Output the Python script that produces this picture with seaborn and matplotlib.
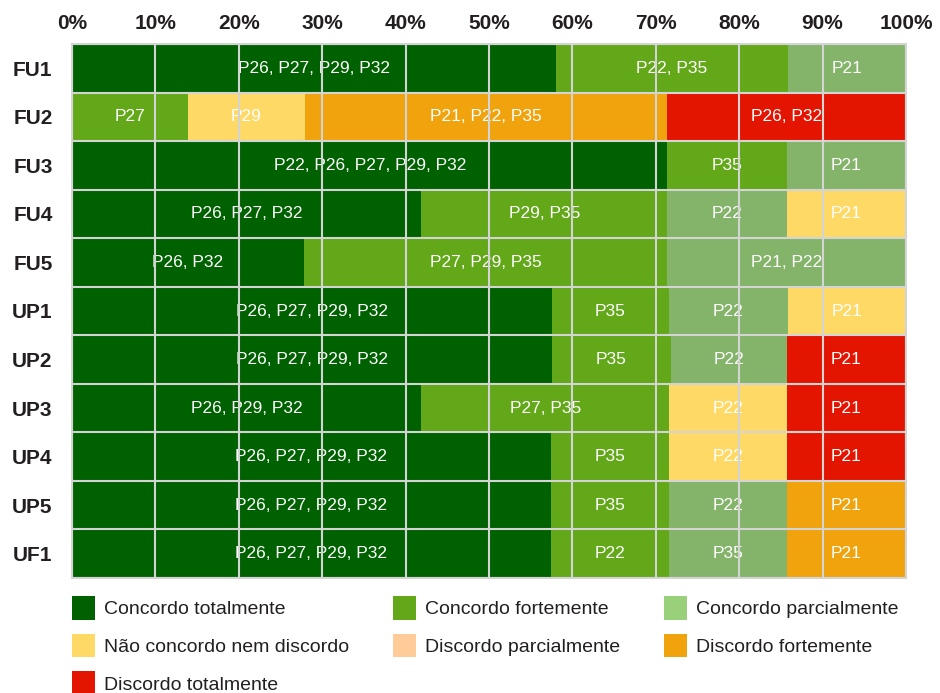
import numpy as np
import pandas as pd
import seaborn as sns
import matplotlib.pyplot as plt
from matplotlib.patches import Patch

# dados (largura de cada segmento, em %)
grupos = ['FU1', 'FU2', 'FU3', 'FU4', 'FU5', 'UP1', 'UP2', 'UP3', 'UP4', 'UP5', 'UF1']
categorias = ['Concordo totalmente', 'Concordo fortemente', 'Concordo parcialmente',
              'Não concordo nem discordo', 'Discordo parcialmente',
              'Discordo fortemente', 'Discordo totalmente']

conc_total = [58.0, 0, 71.4, 41.9, 27.8, 57.5, 57.5, 41.9, 57.4, 57.4, 57.4]
conc_forte = [27.8, 13.9, 14.3, 29.5, 43.6, 14.1, 14.3, 29.7, 14.2, 14.2, 14.2]
conc_parc = [14.2, 0, 14.3, 14.3, 28.6, 14.2, 13.9, 0, 0, 14.1, 14.1]
nao_conc = [0, 14.0, 0, 14.3, 0, 14.2, 0, 14.1, 14.1, 0, 0]
disc_parc = [0, 0, 0, 0, 0, 0, 0, 0, 0, 0, 0]
disc_forte = [0, 43.5, 0, 0, 0, 0, 0, 0, 0, 14.3, 14.3]
disc_total = [0, 28.6, 0, 0, 0, 0, 14.3, 14.3, 14.3, 0, 0]

rot_conc_total = ['P26, P27, P29, P32', '', 'P22, P26, P27, P29, P32', 'P26, P27, P32', 'P26, P32',
                  'P26, P27, P29, P32', 'P26, P27, P29, P32', 'P26, P29, P32',
                  'P26, P27, P29, P32', 'P26, P27, P29, P32', 'P26, P27, P29, P32']
rot_conc_forte = ['P22, P35', 'P27', 'P35', 'P29, P35', 'P27, P29, P35',
                  'P35', 'P35', 'P27, P35', 'P35', 'P35', 'P22']
rot_conc_parc = ['P21', '', 'P21', 'P22', 'P21, P22', 'P22', 'P22', '', '', 'P22', 'P35']
rot_nao_conc = ['', 'P29', '', 'P21', '', 'P21', '', 'P22', 'P22', '', '']
rot_disc_parc = [''] * 11
rot_disc_forte = ['', 'P21, P22, P35', '', '', '', '', '', '', '', 'P21', 'P21']
rot_disc_total = ['', 'P26, P32', '', '', '', '', 'P21', 'P21', 'P21', '', '']

cores = ['#006100', '#62a818', '#84b46a', '#ffd966', '#ffcc99', '#f0a30c', '#e31400']
cores_legenda = ['#006100', '#62a818', '#99d07a', '#ffd966', '#ffcc99', '#f0a30c', '#e31400']

valores = pd.DataFrame(np.array([conc_total, conc_forte, conc_parc, nao_conc,
                                 disc_parc, disc_forte, disc_total]).T,
                       index=grupos, columns=categorias)
rotulos = pd.DataFrame(np.array([rot_conc_total, rot_conc_forte, rot_conc_parc, rot_nao_conc,
                                 rot_disc_parc, rot_disc_forte, rot_disc_total]).T,
                       index=grupos, columns=categorias)
acum = valores.cumsum(axis=1)

sns.set_theme(style='white')
plt.rcParams['font.family'] = ['Liberation Sans', 'DejaVu Sans']

fig = plt.figure(figsize=(9.4, 6.93), dpi=100)
ax = fig.add_axes([72 / 940, 1 - 578 / 693, 834 / 940, 534 / 693])

# barras empilhadas: do acumulado maior para o menor
for cat, cor in reversed(list(zip(categorias, cores))):
    df = pd.DataFrame({'grupo': grupos, 'valor': acum[cat].values})
    sns.barplot(data=df, x='valor', y='grupo', color=cor, saturation=1, width=1,
                errorbar=None, linewidth=0, orient='h', ax=ax)

# rótulos dentro dos segmentos
for i, g in enumerate(grupos):
    for cat in categorias:
        txt = rotulos.loc[g, cat]
        if txt == '' or valores.loc[g, cat] == 0:
            continue
        centro = acum.loc[g, cat] - valores.loc[g, cat] / 2
        ax.text(centro, i, txt, ha='center', va='center', color='white',
                fontsize=12.5, zorder=2)

ax.set_xlim(0, 100)
ax.set_ylim(len(grupos) - 0.5, -0.5)
ax.set_xticks(np.arange(0, 101, 10))
ax.set_xticklabels([f'{v}%' for v in range(0, 101, 10)])
ax.xaxis.tick_top()
ax.set_yticks(np.arange(len(grupos)))
ax.set_yticklabels(grupos)
ax.set_yticks(np.arange(len(grupos) + 1) - 0.5, minor=True)
ax.set_xlabel('')
ax.set_ylabel('')
ax.tick_params(axis='x', which='both', length=0, pad=8, labelsize=15, labelcolor='#231f20')
ax.tick_params(axis='y', which='both', length=0, pad=14, labelsize=15, labelcolor='#231f20')
for lab in ax.get_xticklabels() + ax.get_yticklabels():
    lab.set_fontweight('bold')

ax.set_axisbelow(False)
ax.grid(axis='x', which='major', color='#d4d4d4', linewidth=1.5)
ax.grid(axis='y', which='minor', color='#d4d4d4', linewidth=1.5)
ax.grid(axis='y', which='major', visible=False)
for s in ax.spines.values():
    s.set_color('#d4d4d4')
    s.set_linewidth(1.5)

# legenda (ordem por colunas para ficar 3 por linha)
ordem = [0, 3, 6, 1, 4, 2, 5]
handles = [Patch(facecolor=cores_legenda[k], edgecolor='none') for k in ordem]
labels = [categorias[k] for k in ordem]
fig.legend(handles, labels, loc='upper left', bbox_to_anchor=(72 / 940, 1 - 596 / 693),
           ncol=3, frameon=False, fontsize=14, borderpad=0, borderaxespad=0,
           handlelength=1.2, handleheight=1.5, handletextpad=0.45,
           labelspacing=0.72, columnspacing=2.25, labelcolor='#231f20')

fig.savefig('out.png', dpi=100)
